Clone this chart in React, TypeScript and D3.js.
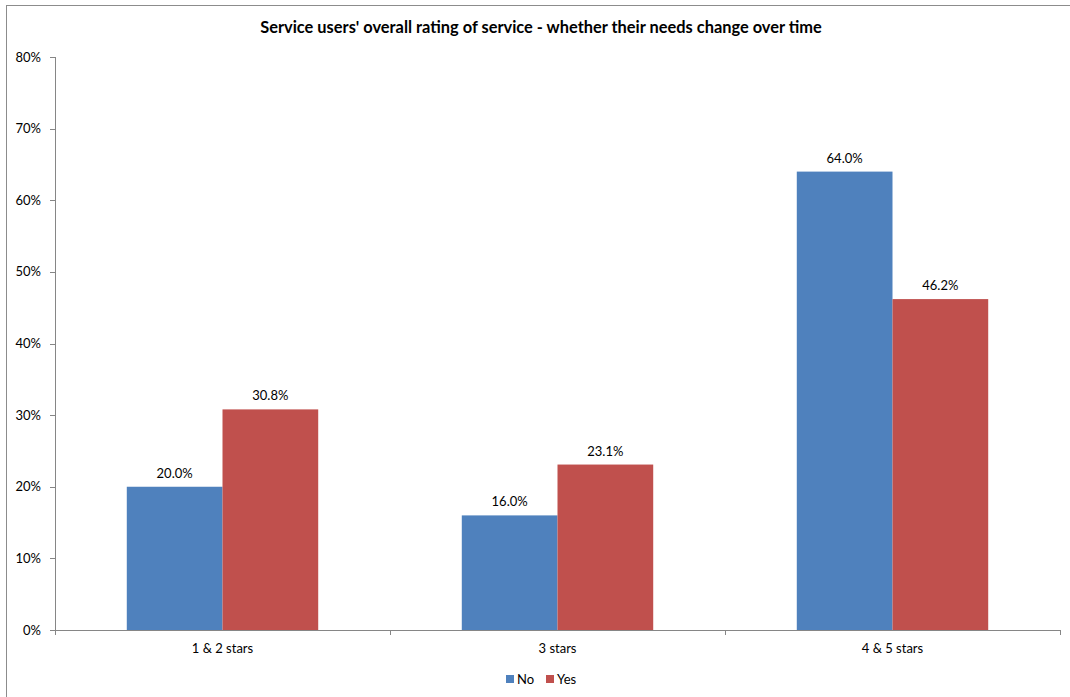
import React from "react";
import * as d3 from "d3";

const categories = ["1 & 2 stars", "3 stars", "4 & 5 stars"];
const seriesNames = ["No", "Yes"];
const noValues = [20.0, 16.0, 64.0];
const yesValues = [30.8, 23.1, 46.2];
const yTicks = [0, 10, 20, 30, 40, 50, 60, 70, 80];
const colors = ["#4F81BD", "#C0504D"];
const title = "Service users' overall rating of service - whether their needs change over time";

const W = 1070;
const H = 697;
const left = 55;
const right = 1060;
const top = 57;
const bottom = 630;
const font = "Lato, 'Open Sans', sans-serif";
const axisColor = "#868686";

export default function App() {
  const x = d3.scaleBand<string>().domain(categories).range([left, right]).paddingInner(0).paddingOuter(0);
  const inner = d3
    .scaleBand<string>()
    .domain(seriesNames)
    .range([0, x.bandwidth()])
    .paddingInner(0)
    .paddingOuter(0.75);
  const y = d3.scaleLinear().domain([0, 80]).range([bottom, top]);
  const series = [noValues, yesValues];
  const boundaries = [left, ...categories.map((c) => (x(c) as number) + x.bandwidth())];

  return (
    <svg
      width={W}
      height={H}
      style={{ position: "absolute", left: 0, top: 0, background: "#fff" }}
      fontFamily={font}
    >
      <rect x={6.5} y={5.5} width={W + 10} height={H + 10} fill="#fff" stroke="#8c8c8c" strokeWidth={1} />
      <text x={541} y={33} textAnchor="middle" fontWeight="bold" fontSize={16.4} fill="#000">
        {title}
      </text>

      {/* y axis */}
      <line x1={left + 0.5} x2={left + 0.5} y1={top} y2={bottom} stroke={axisColor} />
      {yTicks.map((t) => (
        <g key={t}>
          <line x1={left - 5} x2={left} y1={Math.round(y(t)) + 0.5} y2={Math.round(y(t)) + 0.5} stroke={axisColor} />
          <text x={41} y={y(t) + 4.5} textAnchor="end" fontSize={13} fill="#000">
            {t}%
          </text>
        </g>
      ))}

      {/* bars */}
      {categories.map((c, ci) =>
        seriesNames.map((s, si) => {
          const v = series[si][ci];
          const bx = (x(c) as number) + (inner(s) as number);
          return (
            <g key={c + s}>
              <rect x={bx} y={y(v)} width={inner.bandwidth()} height={bottom - y(v)} fill={colors[si]} />
              <text x={bx + inner.bandwidth() / 2} y={y(v) - 9} textAnchor="middle" fontSize={13} fill="#000">
                {v.toFixed(1)}%
              </text>
            </g>
          );
        })
      )}

      {/* x axis */}
      <line x1={left} x2={right} y1={bottom + 0.5} y2={bottom + 0.5} stroke={axisColor} />
      {boundaries.map((b, i) => (
        <line key={i} x1={Math.round(b) + 0.5} x2={Math.round(b) + 0.5} y1={bottom} y2={bottom + 5} stroke={axisColor} />
      ))}
      {categories.map((c) => (
        <text key={c} x={(x(c) as number) + x.bandwidth() / 2} y={653} textAnchor="middle" fontSize={13} fill="#000">
          {c}
        </text>
      ))}

      {/* legend */}
      {seriesNames.map((s, i) => {
        const lx = [506, 546][i];
        return (
          <g key={s}>
            <rect x={lx} y={675} width={8} height={8} fill={colors[i]} />
            <text x={lx + 11} y={684} fontSize={13} fill="#000">
              {s}
            </text>
          </g>
        );
      })}
    </svg>
  );
}
